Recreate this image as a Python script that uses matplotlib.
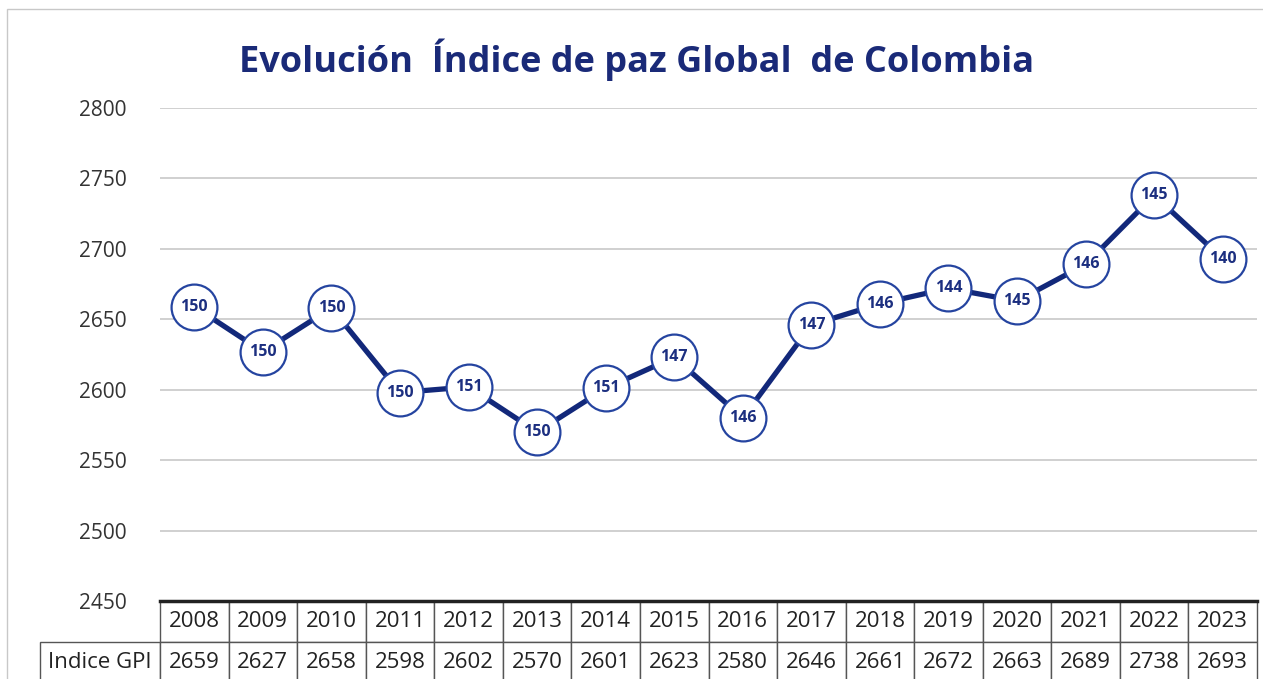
import matplotlib
matplotlib.use("Agg")
import matplotlib.pyplot as plt
from matplotlib.patches import Rectangle

years = ["2008", "2009", "2010", "2011", "2012", "2013", "2014", "2015",
         "2016", "2017", "2018", "2019", "2020", "2021", "2022", "2023"]
gpi = [2659, 2627, 2658, 2598, 2602, 2570, 2601, 2623,
       2580, 2646, 2661, 2672, 2663, 2689, 2738, 2693]
ranks = [150, 150, 150, 150, 151, 150, 151, 147,
         146, 147, 146, 144, 145, 146, 145, 140]
yticks = [2450, 2500, 2550, 2600, 2650, 2700, 2750, 2800]
row_label = 'Indice GPI'

plt.rcParams['font.family'] = ['Open Sans', 'DejaVu Sans']

W, H = 1263, 679
fig = plt.figure(figsize=(W / 100, H / 100), dpi=100)
fig.patch.set_facecolor('white')
fig.add_artist(Rectangle((7 / W, -0.01), 1.1, 1 - 9 / H + 0.01, transform=fig.transFigure,
                         fill=False, edgecolor='#c8c8c8', linewidth=1))

left, right, top, bottom = 160, 1257, 108, 601
ax = fig.add_axes([left / W, 1 - bottom / H, (right - left) / W, (bottom - top) / H])

x = list(range(len(years)))
line_color = '#12287a'
ax.plot(x, gpi, color=line_color, linewidth=3.8, zorder=3,
        marker='o', markersize=33, markerfacecolor='white',
        markeredgecolor='#2544a0', markeredgewidth=1.6)
for xi, yi, r in zip(x, gpi, ranks):
    ax.text(xi, yi, str(r), ha='center', va='center', fontsize=11.5,
            fontweight='bold', color='#1c2f80', zorder=4)

ax.set_xlim(-0.5, len(years) - 0.5)
ax.set_ylim(2450, 2800)
ax.set_yticks(yticks)
ax.set_yticklabels([str(v) for v in yticks], fontsize=15, color='#333333')
ax.tick_params(axis='y', length=0, pad=24)
ax.set_xticks([])
for s in ['left', 'right', 'top']:
    ax.spines[s].set_visible(False)
ax.spines['bottom'].set_color('#222222')
ax.spines['bottom'].set_linewidth(2.5)
ax.yaxis.grid(True, color='#c4c4c4', linewidth=1.1)
ax.set_axisbelow(True)

row_h = 82 / (bottom - top)
lab_w = 120 / (right - left)
cells = [[''] + years, [row_label] + [str(v) for v in gpi]]
tbl = ax.table(cellText=cells, colWidths=[lab_w] + [1 / len(years)] * len(years),
               cellLoc='center', bbox=[-lab_w, -row_h, 1 + lab_w, row_h])
tbl.auto_set_font_size(False)
for (r, c), cell in tbl.get_celld().items():
    cell.set_fontsize(16)
    cell.set_edgecolor('#555555')
    cell.set_linewidth(1.0)
    cell.get_text().set_color('#222222')
    if c == 0:
        cell.PAD = 0.02
tbl[(0, 0)].visible_edges = ''

fig.text(637 / W, 1 - 60 / H, 'Evolución  Índice de paz Global  de Colombia',
         ha='center', va='center', fontsize=26, fontweight='bold', color='#1a2a78')

fig.savefig('out.png', dpi=100, facecolor='white')
